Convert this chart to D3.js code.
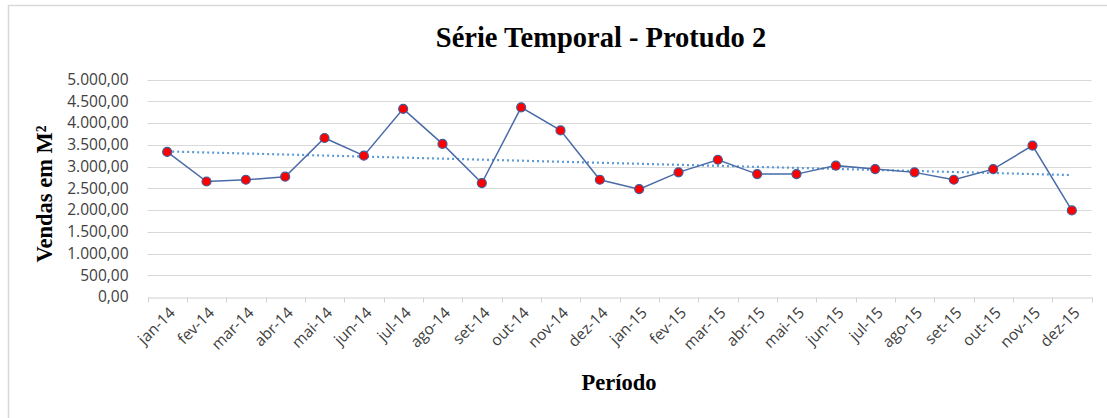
<!DOCTYPE html>
<html>
<head>
<meta charset="utf-8">
<script src="https://cdn.jsdelivr.net/npm/d3@7"></script>
<style>
  body { margin: 0; background: #fff; }
</style>
</head>
<body>
<div class="chart"></div>
<script>
var months = ["jan-14","fev-14","mar-14","abr-14","mai-14","jun-14","jul-14","ago-14","set-14","out-14","nov-14","dez-14",
              "jan-15","fev-15","mar-15","abr-15","mai-15","jun-15","jul-15","ago-15","set-15","out-15","nov-15","dez-15"];
var vendas = [3335, 2655, 2695, 2765, 3655, 3250, 4325, 3520, 2620, 4360, 3830, 2695,
              2480, 2865, 3155, 2825, 2825, 3020, 2940, 2865, 2695, 2940, 3480, 1990];
var yTicks = [0, 500, 1000, 1500, 2000, 2500, 3000, 3500, 4000, 4500, 5000];

var W = 1107, H = 418;
var margin = {top: 79.5, right: 15.5, bottom: 121, left: 147.5};

var svg = d3.select(".chart").append("svg")
    .attr("width", W)
    .attr("height", H);

// moldura do gráfico
svg.append("rect")
    .attr("x", 8.5).attr("y", 5.5)
    .attr("width", W).attr("height", H)
    .attr("fill", "none")
    .attr("stroke", "#d9d9d9")
    .attr("stroke-width", 1.5);

var x = d3.scaleBand()
    .domain(months)
    .range([margin.left, W - margin.right]);

var y = d3.scaleLinear()
    .domain([0, 5000])
    .range([H - margin.bottom, margin.top]);

// formato pt-BR: 5.000,00
var fmt = function(v) {
  var s = d3.format(",.2f")(v);
  return s.replace(/,/g, "#").replace(".", ",").replace(/#/g, ".");
};

// grade
svg.append("g").selectAll("line")
    .data(yTicks.slice(1))
    .enter().append("line")
    .attr("x1", margin.left).attr("x2", W - margin.right)
    .attr("y1", function(d) { return Math.round(y(d)) + 0.5; })
    .attr("y2", function(d) { return Math.round(y(d)) + 0.5; })
    .attr("stroke", "#d9d9d9")
    .attr("stroke-width", 1);

// eixo y
var yAxis = d3.axisLeft(y).tickValues(yTicks).tickFormat(fmt).tickSize(0).tickPadding(19);
var gy = svg.append("g")
    .attr("transform", "translate(" + margin.left + ",0)")
    .call(yAxis);
gy.select(".domain").remove();
gy.selectAll("text")
    .attr("font-family", "'Open Sans', sans-serif")
    .attr("font-size", "15.5px")
    .attr("fill", "#404040");

// eixo x
var xAxis = d3.axisBottom(x).tickSize(0).tickFormat("");
var gx = svg.append("g")
    .attr("transform", "translate(0," + (Math.round(y(0)) + 0.5) + ")")
    .call(xAxis);
gx.select(".domain").attr("stroke", "#d0d0d0");
gx.selectAll(".tick").remove();

// marcas entre categorias
var bounds = months.map(function(m) { return x(m); }).concat([W - margin.right]);
svg.append("g").selectAll("line")
    .data(bounds)
    .enter().append("line")
    .attr("x1", function(d) { return Math.round(d) + 0.5; })
    .attr("x2", function(d) { return Math.round(d) + 0.5; })
    .attr("y1", Math.round(y(0)) + 0.5)
    .attr("y2", Math.round(y(0)) + 5.5)
    .attr("stroke", "#d0d0d0");

// rótulos do eixo x, girados
svg.append("g").selectAll("text")
    .data(months)
    .enter().append("text")
    .attr("transform", function(d) {
      return "translate(" + (x(d) + x.bandwidth() / 2 + 5) + "," + (y(0) + 13) + ") rotate(-45)";
    })
    .attr("text-anchor", "end")
    .attr("dy", "0.35em")
    .attr("font-family", "'Open Sans', sans-serif")
    .attr("font-size", "15.5px")
    .attr("fill", "#404040")
    .text(function(d) { return d; });

// linha de tendência (mínimos quadrados)
var n = vendas.length;
var mx = d3.mean(vendas, function(d, i) { return i; });
var my = d3.mean(vendas);
var sxy = d3.sum(vendas, function(d, i) { return (i - mx) * (d - my); });
var sxx = d3.sum(vendas, function(d, i) { return (i - mx) * (i - mx); });
var slope = sxy / sxx, icpt = my - slope * mx;

var cx = function(i) { return x(months[i]) + x.bandwidth() / 2; };

svg.append("line")
    .attr("x1", cx(0)).attr("y1", y(icpt))
    .attr("x2", cx(n - 1)).attr("y2", y(icpt + slope * (n - 1)))
    .attr("stroke", "#5b9bd5")
    .attr("stroke-width", 2.2)
    .attr("stroke-dasharray", "2,3");

// série
var line = d3.line()
    .x(function(d, i) { return cx(i); })
    .y(function(d) { return y(d); });

svg.append("path")
    .datum(vendas)
    .attr("d", line)
    .attr("fill", "none")
    .attr("stroke", "#4a6aa8")
    .attr("stroke-width", 1.5);

svg.append("g").selectAll("circle")
    .data(vendas)
    .enter().append("circle")
    .attr("cx", function(d, i) { return cx(i); })
    .attr("cy", function(d) { return y(d); })
    .attr("r", 4.5)
    .attr("fill", "#ff0000")
    .attr("stroke", "#3d5f9e")
    .attr("stroke-width", 1.2);

// títulos
svg.append("text")
    .attr("x", 601).attr("y", 47)
    .attr("text-anchor", "middle")
    .attr("font-family", "'Liberation Serif', serif")
    .attr("font-weight", "bold")
    .attr("font-size", "28.5px")
    .attr("fill", "#000")
    .text("Série Temporal - Protudo 2");

svg.append("text")
    .attr("transform", "translate(52,194) rotate(-90)")
    .attr("text-anchor", "middle")
    .attr("font-family", "'Liberation Serif', serif")
    .attr("font-weight", "bold")
    .attr("font-size", "22.5px")
    .attr("fill", "#000")
    .text("Vendas em M²");

svg.append("text")
    .attr("x", 619).attr("y", 390)
    .attr("text-anchor", "middle")
    .attr("font-family", "'Liberation Serif', serif")
    .attr("font-weight", "bold")
    .attr("font-size", "22.5px")
    .attr("fill", "#000")
    .text("Período");
</script>
</body>
</html>
